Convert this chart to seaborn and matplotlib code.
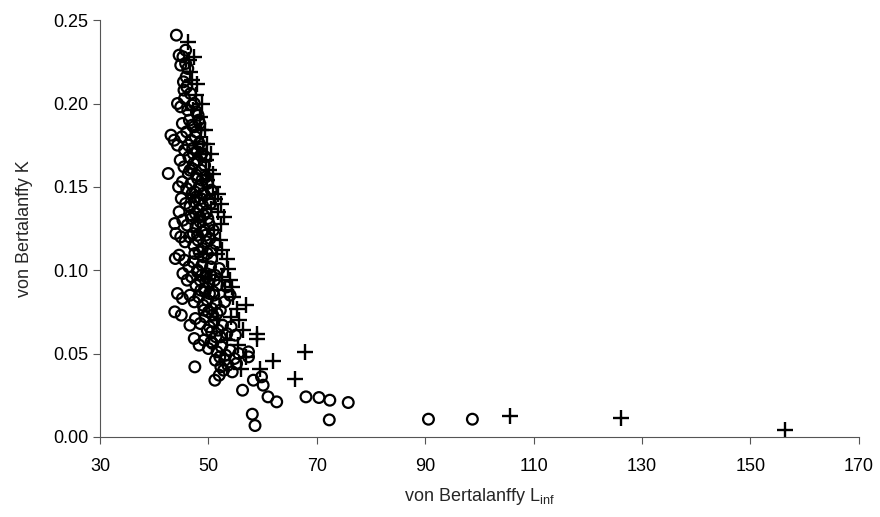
import pandas as pd
import seaborn as sns
import matplotlib.pyplot as plt

# open circles: (L_inf, K)
circ_L = [44.1, 44.6, 45.3, 45.8, 44.9, 45.4, 45.9,
          44.3, 44.9, 45.6, 46.2, 47.0, 47.8, 46.5, 45.2, 47.3, 48.2,
          43.1, 43.7, 44.3, 45.1, 46.0, 46.8, 47.6, 48.3, 45.6, 46.4, 47.2, 48.0, 48.8,
          44.8, 45.5, 46.3, 47.0, 47.8, 48.6, 49.3, 42.6,
          44.5, 45.2, 46.0, 46.8, 47.5, 48.3, 49.0, 49.8, 50.5, 45.0, 45.8, 46.6, 47.4,
          48.1, 48.9, 49.6, 50.4, 44.6,
          45.3, 46.1, 46.9, 47.7, 48.5, 49.3, 50.1, 50.9, 43.8, 44.0, 44.9, 45.7, 46.5,
          47.3, 48.1, 48.9, 49.7, 50.5, 51.3,
          43.9, 44.6, 45.6, 46.4, 47.2, 48.0, 48.8, 49.6, 50.4, 51.2, 52.0, 45.3, 46.1,
          46.9, 47.7, 48.5, 49.3, 50.1, 50.9, 51.7, 53.4,
          44.3, 45.2, 46.6, 47.4, 48.2, 49.0, 49.8, 50.6, 51.4, 52.2, 53.0, 54.0, 43.8,
          45.0, 46.6, 47.6, 48.5, 49.4, 50.2, 51.0, 51.8, 52.6, 53.4, 54.2, 55.0,
          47.4, 48.3, 49.2, 50.0, 50.8, 51.6, 52.4, 53.2, 54.0, 54.8, 55.6, 47.5, 57.4, 57.4,
          51.2, 52.0, 52.8, 53.6, 54.4, 55.2, 53.0, 52.3, 56.3, 58.3, 59.8, 60.1, 61.0,
          62.6, 68.0, 70.4, 72.4, 75.8, 72.3, 58.1, 58.6, 90.6, 98.7,
          46.0, 46.7, 47.4, 48.1, 47.0, 47.7, 48.4, 46.3, 47.1, 47.9, 48.7, 49.4, 46.6,
          47.3, 48.0, 48.8, 49.5, 47.0, 47.8, 48.6, 49.3, 50.0, 46.8, 47.6, 48.4, 49.1,
          49.9, 47.2, 48.0, 48.8, 49.5, 50.3, 47.5, 48.3, 49.1, 49.8, 50.6, 48.0, 48.8,
          49.6, 50.4, 51.1, 48.6, 49.4, 50.2, 51.0, 49.2, 50.0, 50.8, 51.6, 49.8, 50.6,
          51.4, 52.2, 50.5, 51.3, 52.1, 45.8, 46.2, 45.5]
circ_K = [0.241, 0.229, 0.228, 0.224, 0.223, 0.213, 0.216,
          0.200, 0.198, 0.203, 0.196, 0.199, 0.195, 0.190, 0.188, 0.186, 0.190,
          0.181, 0.178, 0.175, 0.180, 0.183, 0.178, 0.180, 0.176, 0.172, 0.168, 0.170, 0.166, 0.170,
          0.166, 0.162, 0.158, 0.161, 0.157, 0.160, 0.163, 0.158,
          0.150, 0.153, 0.149, 0.152, 0.147, 0.150, 0.146, 0.152, 0.148, 0.143, 0.140, 0.138, 0.141,
          0.136, 0.139, 0.135, 0.140, 0.135,
          0.130, 0.127, 0.131, 0.126, 0.129, 0.124, 0.128, 0.124, 0.128, 0.122, 0.120, 0.117, 0.120,
          0.115, 0.118, 0.113, 0.117, 0.112, 0.116,
          0.107, 0.109, 0.106, 0.102, 0.105, 0.100, 0.103, 0.098, 0.102, 0.097, 0.101, 0.098, 0.094,
          0.096, 0.091, 0.094, 0.089, 0.092, 0.087, 0.091, 0.090,
          0.086, 0.083, 0.085, 0.081, 0.084, 0.079, 0.082, 0.077, 0.080, 0.076, 0.081, 0.085, 0.075,
          0.073, 0.067, 0.071, 0.068, 0.072, 0.066, 0.069, 0.064, 0.067, 0.062, 0.066, 0.061,
          0.059, 0.055, 0.058, 0.053, 0.056, 0.051, 0.054, 0.049, 0.052, 0.047, 0.050, 0.042, 0.051, 0.048,
          0.034, 0.037, 0.040, 0.043, 0.039, 0.044, 0.046, 0.042, 0.028, 0.034, 0.036, 0.031, 0.024,
          0.021, 0.024, 0.0236, 0.022, 0.0206, 0.0102, 0.0136, 0.0068, 0.0106, 0.0106,
          0.210, 0.206, 0.200, 0.193, 0.187, 0.183, 0.188, 0.175, 0.173, 0.171, 0.174, 0.168, 0.160,
          0.164, 0.155, 0.154, 0.156, 0.146, 0.144, 0.143, 0.145, 0.142, 0.133, 0.134, 0.132, 0.133,
          0.131, 0.122, 0.121, 0.123, 0.121, 0.119, 0.110, 0.111, 0.108, 0.110, 0.107, 0.099, 0.097,
          0.096, 0.097, 0.094, 0.088, 0.087, 0.086, 0.085, 0.076, 0.075, 0.073, 0.074, 0.064, 0.063,
          0.060, 0.060, 0.057, 0.046, 0.048, 0.232, 0.221, 0.208]

# plus markers: (L_inf, K)
plus_L = [46.3, 46.6, 46.9, 46.4, 47.8, 47.2, 48.4, 48.6, 49.4, 49.0, 48.4, 49.5, 50.2,
          49.7, 50.8, 51.3, 50.5, 51.8, 52.4, 51.0, 52.1, 51.5, 53.4, 53.7, 52.6, 53.0,
          54.6, 55.2, 57.0, 54.2, 58.9, 58.9, 56.1, 59.5, 62.0, 67.8, 66.0,
          47.5, 48.0, 49.0, 50.0, 51.5, 53.5, 55.5, 105.6, 126.1, 156.3,
          47.3, 47.9, 48.8, 49.7, 50.4, 50.9, 51.8, 52.3, 52.8, 52.5, 53.9, 54.3, 55.7, 56.4, 57.0]
plus_K = [0.237, 0.219, 0.214, 0.226, 0.205, 0.196, 0.192, 0.184, 0.184, 0.176, 0.170, 0.166, 0.160,
          0.154, 0.150, 0.143, 0.137, 0.135, 0.128, 0.124, 0.118, 0.110, 0.107, 0.101, 0.096, 0.088,
          0.084, 0.077, 0.079, 0.072, 0.062, 0.059, 0.041, 0.041, 0.0456, 0.051, 0.035,
          0.145, 0.130, 0.110, 0.095, 0.070, 0.058, 0.055, 0.0128, 0.0116, 0.0042,
          0.228, 0.212, 0.200, 0.176, 0.170, 0.158, 0.146, 0.140, 0.132, 0.112, 0.094, 0.090, 0.070,
          0.064, 0.048]

x_ticks = [30, 50, 70, 90, 110, 130, 150, 170]
y_ticks = [0.00, 0.05, 0.10, 0.15, 0.20, 0.25]

sns.set_style("ticks")
plt.rcParams['font.family'] = ['Liberation Sans', 'DejaVu Sans']
plt.rcParams['mathtext.default'] = 'regular'

circles = pd.DataFrame({"L": circ_L, "K": circ_K})
pluses = pd.DataFrame({"L": plus_L, "K": plus_K})

fig, ax = plt.subplots(figsize=(8.8, 5.17), dpi=100)
fig.subplots_adjust(left=0.1136, right=0.976, top=0.961, bottom=0.155)

sns.scatterplot(data=circles, x="L", y="K", ax=ax, marker="o", s=60,
                facecolors="none", edgecolor="black", linewidth=1.6)
sns.scatterplot(data=pluses, x="L", y="K", ax=ax, marker="+", s=120,
                color="black", linewidth=1.7)

ax.set_xlim(30, 170)
ax.set_ylim(0, 0.25)
ax.set_xticks(x_ticks)
ax.set_yticks(y_ticks)
ax.set_yticklabels([f"{v:.2f}" for v in y_ticks])
ax.tick_params(labelsize=13, length=5, color="#555555", labelcolor="black")
ax.tick_params(axis="x", pad=10)
for s in ["left", "bottom"]:
    ax.spines[s].set_color("#555555")
    ax.spines[s].set_linewidth(0.8)
sns.despine(ax=ax)

ax.set_xlabel(r"von Bertalanffy L$_{inf}$", fontsize=13, labelpad=8)
ax.set_ylabel("von Bertalanffy K", fontsize=13, labelpad=14)

fig.savefig("out.png", dpi=100)
